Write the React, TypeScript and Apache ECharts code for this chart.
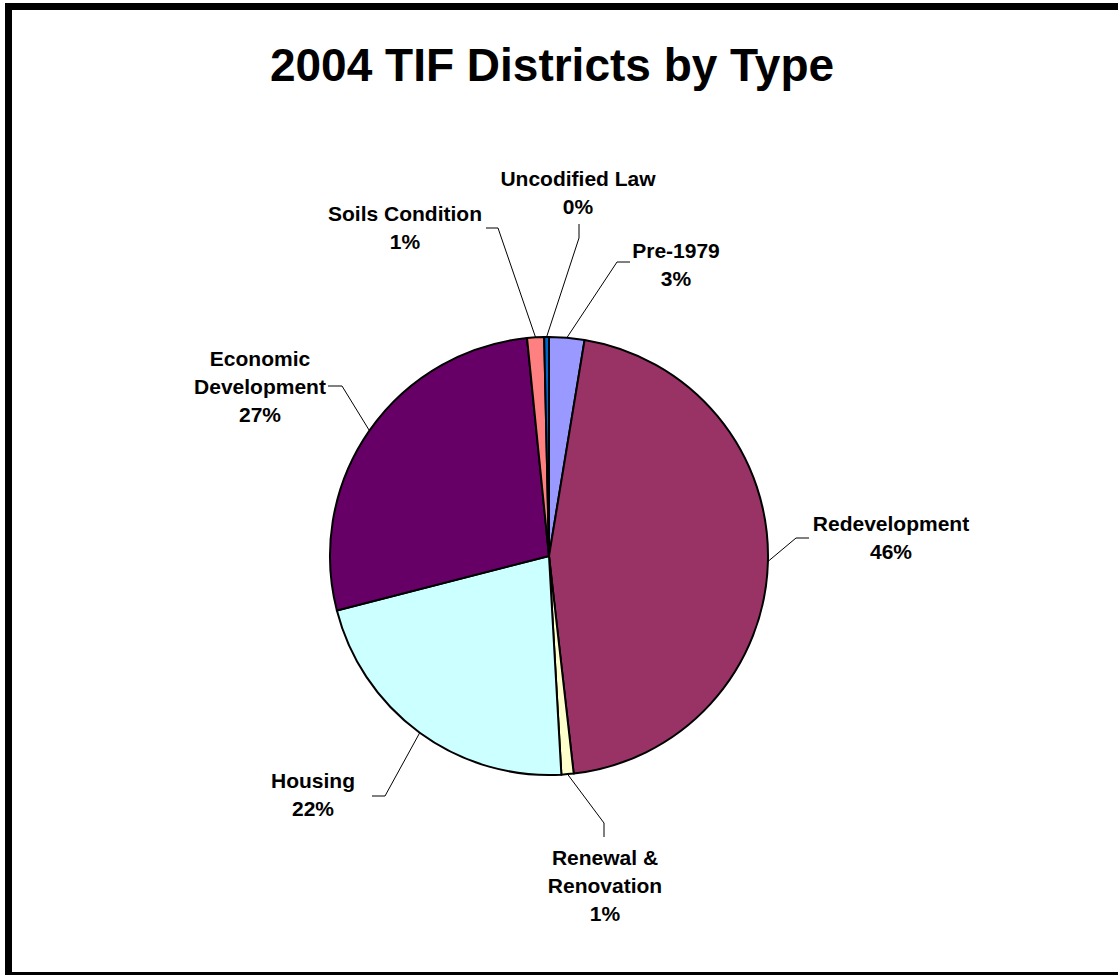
import React, { useEffect, useRef } from "react";
import * as echarts from "echarts";

const TITLE = "2004 TIF Districts by Type";
const categories = [
  "Pre-1979",
  "Redevelopment",
  "Renewal & Renovation",
  "Housing",
  "Economic Development",
  "Soils Condition",
  "Uncodified Law",
];
const districtCounts = [52, 912, 18, 438, 548, 25, 7];
const sliceColors = ["#9999FF", "#993366", "#FFFFCC", "#CCFFFF", "#660066", "#FF8080", "#0066CC"];

// label layout (text block centres and callout elbows), in page pixels
const labelCenters = [
  [676, 264],
  [891, 537],
  [605, 885],
  [313, 794],
  [260, 386],
  [405, 227],
  [578, 192],
];
const labelElbows = [
  [[617, 262], [630, 262]],
  [[796, 538], [809, 538]],
  [[604, 823], [604, 837]],
  [[385, 796], [372, 796]],
  [[342, 386], [328, 386]],
  [[498, 228], [486, 228]],
  [[579, 238], [579, 224]],
];

const FONT = '"Liberation Sans", Arial, Helvetica, sans-serif';

export default function App() {
  const ref = useRef<HTMLDivElement>(null);
  useEffect(() => {
    if (!ref.current) return;
    const chart = echarts.init(ref.current, undefined, { renderer: "svg" });
    const total = districtCounts.reduce((a, b) => a + b, 0);
    const data = categories.map((name, i) => ({
      name,
      value: districtCounts[i],
      itemStyle: { color: sliceColors[i] },
    }));
    chart.setOption({
      animation: false,
      backgroundColor: "#ffffff",
      title: {
        text: TITLE,
        left: 547,
        top: 37,
        textAlign: "center",
        textStyle: { fontSize: 46, fontWeight: "bold", fontFamily: FONT, color: "#000" },
      },
      graphic: [
        {
          type: "rect",
          shape: { x: 8.5, y: 6.5, width: 1300, height: 969 },
          style: { fill: "none", stroke: "#000", lineWidth: 7 },
          silent: true,
        },
      ],
      series: [
        {
          type: "pie",
          center: [549, 556],
          radius: 219,
          startAngle: 90,
          clockwise: true,
          avoidLabelOverlap: false,
          data,
          itemStyle: { borderColor: "#000", borderWidth: 2 },
          emphasis: { disabled: true },
          label: {
            show: true,
            position: "outside",
            fontFamily: FONT,
            fontWeight: "bold",
            fontSize: 21,
            lineHeight: 28,
            color: "#000",
            align: "center",
            formatter: (p: any) => {
              const pct = Math.round((p.value / total) * 100);
              const nm = String(p.name).replace("Economic ", "Economic\n").replace("& ", "&\n");
              return nm + "\n" + pct + "%";
            },
          },
          labelLine: {
            show: true,
            length: 10,
            length2: 10,
            smooth: false,
            lineStyle: { color: "#000", width: 1 },
          },
          labelLayout: (params: any) => {
            const i = params.dataIndex;
            const c = labelCenters[i];
            const first =
              params.labelLinePoints && params.labelLinePoints[0]
                ? params.labelLinePoints[0]
                : labelElbows[i][0];
            return {
              x: c[0],
              y: c[1],
              align: "center",
              verticalAlign: "middle",
              labelLinePoints: [first, labelElbows[i][0], labelElbows[i][1]],
            };
          },
        },
      ],
    });
    return () => chart.dispose();
  }, []);
  return (
    <div
      ref={ref}
      style={{ position: "absolute", left: 0, top: 0, width: 1118, height: 975 }}
    />
  );
}
